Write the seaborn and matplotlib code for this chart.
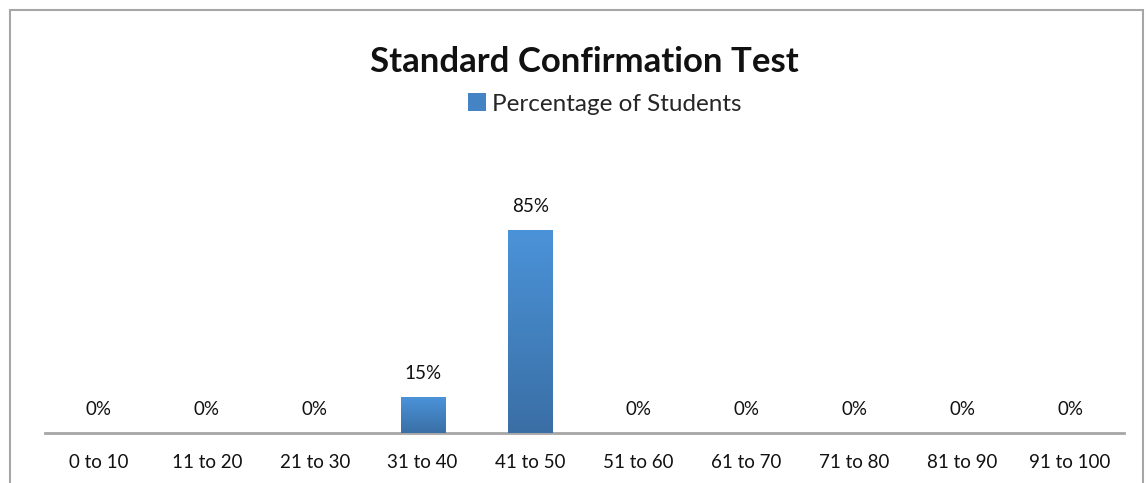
import seaborn as sns
import matplotlib.pyplot as plt
import matplotlib.patches as mpatches
from matplotlib.colors import LinearSegmentedColormap
import numpy as np
import pandas as pd

categories = ['0 to 10', '11 to 20', '21 to 30', '31 to 40', '41 to 50',
              '51 to 60', '61 to 70', '71 to 80', '81 to 90', '91 to 100']
percent = [0, 0, 0, 15, 85, 0, 0, 0, 0, 0]
series_name = 'Percentage of Students'
title = 'Standard Confirmation Test'

TOP, BOT = '#4b93d9', '#3a6fa5'
GRAY = '#a6a6a6'

sns.set_theme(style='white')
plt.rcParams['font.family'] = ['Lato', 'DejaVu Sans']

df = pd.DataFrame({'Range': categories, 'Pct': percent})

W, H = 1146, 483
fig = plt.figure(figsize=(W / 100, H / 100), dpi=100)
ax = fig.add_axes([45 / W, 50 / H, 1079 / W, 239 / H])

sns.barplot(data=df, x='Range', y='Pct', ax=ax, color=TOP, width=0.41,
            errorbar=None, saturation=1)

# gradient fill, lighter at top
grad = np.linspace(0, 1, 256).reshape(-1, 1)
cmap = LinearSegmentedColormap.from_list('bar', [BOT, TOP])
for p in ax.patches:
    if p.get_height() <= 0:
        continue
    x0, w, h = p.get_x(), p.get_width(), p.get_height()
    im = ax.imshow(grad, cmap=cmap, origin='lower', aspect='auto',
                   extent=[x0, x0 + w, 0, h], zorder=3)
    im.set_clip_path(p)
    p.set_facecolor('none')
    p.set_edgecolor('none')
ax.set_xlim(-0.5, len(categories) - 0.5)
ax.set_ylim(0, 100)

ax.bar_label(ax.containers[0], labels=[f'{v}%' for v in percent],
             padding=11, fontsize=13.5, color='#111111')

for s in ['top', 'left', 'right']:
    ax.spines[s].set_visible(False)
ax.spines['bottom'].set_color(GRAY)
ax.spines['bottom'].set_linewidth(2)
ax.set_yticks([])
ax.tick_params(axis='x', length=0, pad=15, labelsize=13.5, colors='#111111')
ax.set_xlabel('')
ax.set_ylabel('')

fig.text(584 / W, 1 - 62 / H, title, ha='center', va='center',
         fontsize=25, fontweight='bold', color='#111111')
handle = mpatches.Patch(facecolor='#4483c4', edgecolor='none', label=series_name)
fig.legend(handles=[handle], loc='center', bbox_to_anchor=(605 / W, 1 - 104 / H),
           frameon=False, fontsize=17.5, handlelength=0.75, handleheight=0.75,
           handletextpad=0.25)

border = mpatches.Rectangle((10 / W, -0.1), (1133 / W), 1.1 - 10 / H,
                            transform=fig.transFigure, fill=False,
                            edgecolor=GRAY, linewidth=1.5)
fig.add_artist(border)

fig.savefig('out.png', dpi=100)
